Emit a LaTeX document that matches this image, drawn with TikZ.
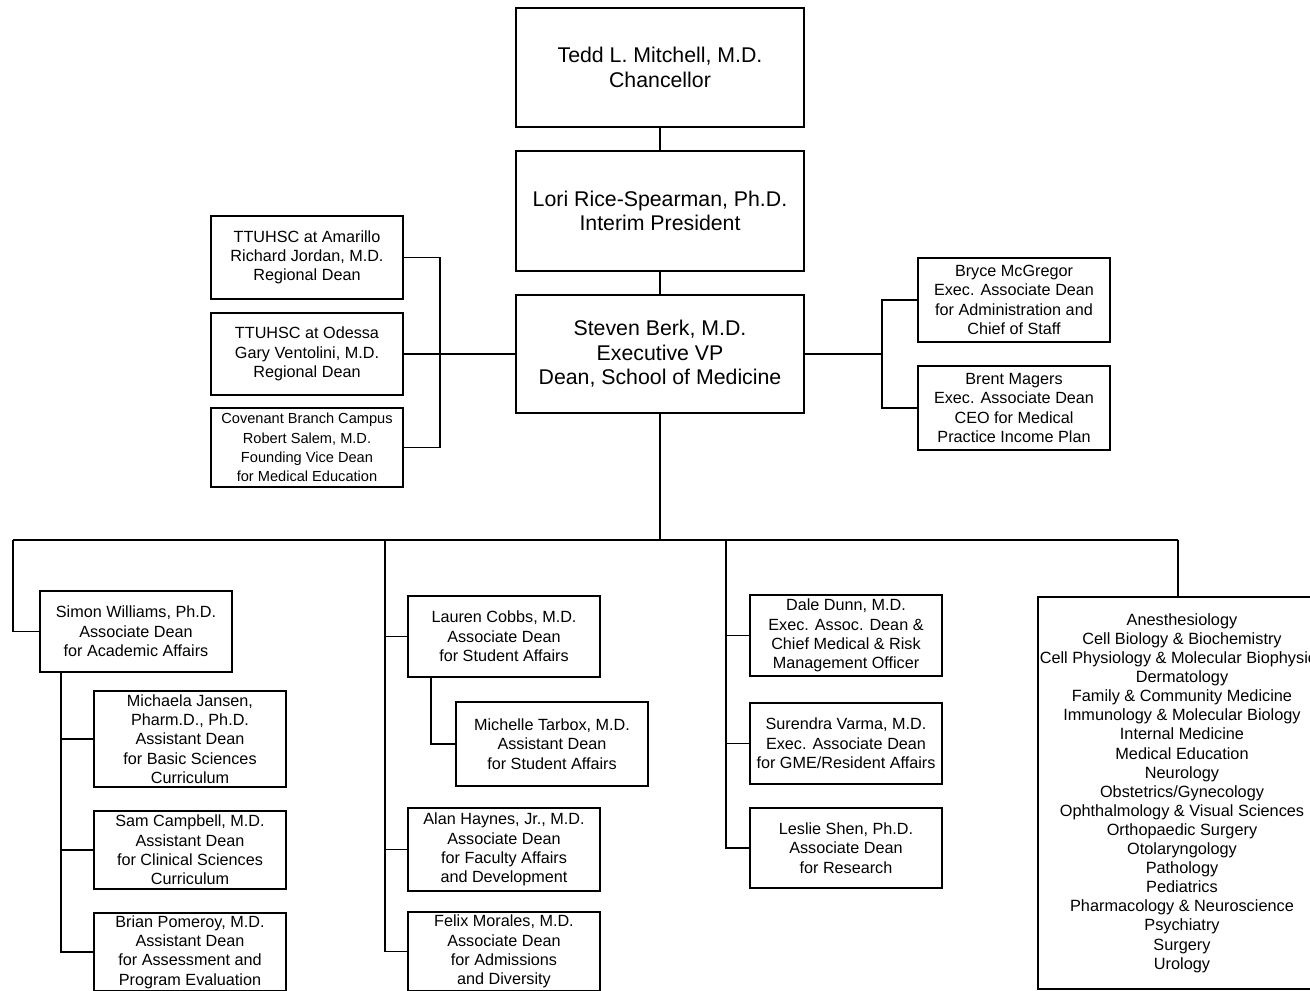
\documentclass[tikz,border=0pt]{standalone}
\usepackage{fontspec}
\setmainfont{Liberation Sans}
\usetikzlibrary{positioning}

\newcommand{\bigsize}{\fontsize{21.3}{24.5}\selectfont}
\newcommand{\smallsize}{\fontsize{16.2}{19.3}\selectfont}
\newcommand{\tinysize}{\fontsize{14.6}{19.3}\selectfont}
\newcommand{\listsize}{\fontsize{16.3}{19.1}\selectfont}

\begin{document}
\begin{tikzpicture}[x=1pt,y=-1pt,line width=1.6pt,
    box/.style={draw,align=center,inner sep=0pt,minimum width=192pt,font=\smallsize},
    head/.style={box,minimum width=288pt,font=\bigsize}]
    \clip (0,0) rectangle (1310,991);
    % top of the chart
    \node[head,minimum height=119pt] (chan) at (660,67.5) {Tedd L. Mitchell, M.D.\\Chancellor};
    \node[head,minimum height=120pt] (pres) at (660,211) {Lori Rice-Spearman, Ph.D.\\Interim President};
    \node[head,minimum height=118pt] (dean) at (660,354) {Steven Berk, M.D.\\Executive VP\\Dean, School of Medicine};
    % regional campuses
    \node[box,minimum height=83pt] (amar) at (307,257.5) {TTUHSC at Amarillo\\Richard Jordan, M.D.\\Regional Dean};
    \node[box,minimum height=82pt] (odes) at (307,354) {TTUHSC at Odessa\\Gary Ventolini, M.D.\\Regional Dean};
    \node[box,minimum height=79pt,font=\tinysize] (cov) at (307,447.5) {Covenant Branch Campus\\Robert Salem, M.D.\\Founding Vice Dean\\for Medical Education};
    % executive associate deans
    \node[box,minimum height=84pt] (bryce) at (1014,300) {Bryce McGregor\\Exec. Associate Dean\\for Administration and\\Chief of Staff};
    \node[box,minimum height=84pt] (brent) at (1014,408) {Brent Magers\\Exec. Associate Dean\\CEO for Medical\\Practice Income Plan};
    % first column
    \node[box,minimum height=81pt] (simon) at (136,631.5) {Simon Williams, Ph.D.\\Associate Dean\\for Academic Affairs};
    \node[box,minimum height=96pt] (jansen) at (190,739) {Michaela Jansen,\\Pharm.D., Ph.D.\\Assistant Dean\\for Basic Sciences\\Curriculum};
    \node[box,minimum height=78pt] (campbell) at (190,850) {Sam Campbell, M.D.\\Assistant Dean\\for Clinical Sciences\\Curriculum};
    \node[box,minimum height=78pt] (pomeroy) at (190,952) {Brian Pomeroy, M.D.\\Assistant Dean\\for Assessment and\\Program Evaluation};
    % second column
    \node[box,minimum height=81pt] (cobbs) at (504,636.5) {Lauren Cobbs, M.D.\\Associate Dean\\for Student Affairs};
    \node[box,minimum height=84pt] (tarbox) at (552,744) {Michelle Tarbox, M.D.\\Assistant Dean\\for Student Affairs};
    \node[box,minimum height=83pt] (haynes) at (504,849.5) {Alan Haynes, Jr., M.D.\\Associate Dean\\for Faculty Affairs\\and Development};
    \node[box,minimum height=79pt] (morales) at (504,951.5) {Felix Morales, M.D.\\Associate Dean\\for Admissions\\and Diversity};
    % third column
    \node[box,minimum height=81pt] (dunn) at (846,635.5) {Dale Dunn, M.D.\\Exec. Assoc. Dean \&\\Chief Medical \& Risk\\Management Officer};
    \node[box,minimum height=81pt] (varma) at (846,743.5) {Surendra Varma, M.D.\\Exec. Associate Dean\\for GME/Resident Affairs};
    \node[box,minimum height=80pt] (shen) at (846,848) {Leslie Shen, Ph.D.\\Associate Dean\\for Research};
    % departments
    \node[box,minimum width=288pt,minimum height=392pt] (dept) at (1182,793) {};
    \node[align=center,inner sep=0pt,font=\listsize] (deptlist) at (dept.center) {Anesthesiology\\Cell Biology \& Biochemistry\\Cell Physiology \& Molecular Biophysics\\Dermatology\\Family \& Community Medicine\\Immunology \& Molecular Biology\\Internal Medicine\\Medical Education\\Neurology\\Obstetrics/Gynecology\\Ophthalmology \& Visual Sciences\\Orthopaedic Surgery\\Otolaryngology\\Pathology\\Pediatrics\\Pharmacology \& Neuroscience\\Psychiatry\\Surgery\\Urology};
    % junctions
    \coordinate (lj) at (440,354);
    \coordinate (rj) at (882,354);
    \coordinate (bus) at (660,540);
    \coordinate (b1) at (13,540);
    \coordinate (b2) at (385,540);
    \coordinate (b3) at (726,540);
    \coordinate (b4) at (1178,540);
    \coordinate (sw) at ([xshift=22pt]simon.south west);
    \coordinate (cw) at ([xshift=24pt]cobbs.south west);
    % connectors
    \draw (chan) -- (pres);
    \draw (pres) -- (dean);
    \draw (odes) -- (dean);
    \draw (amar.east) -| (lj) |- (cov.east);
    \draw (dean) -- (rj);
    \draw (bryce.west) -| (rj) |- (brent.west);
    \draw (dean) -- (bus);
    \draw (b1) -- (b4);
    \draw (b1) |- (simon.west);
    \draw (sw) |- (pomeroy.west) (sw |- jansen.west) -- (jansen.west) (sw |- campbell.west) -- (campbell.west);
    \draw (b2) |- (morales.west) (b2 |- cobbs.west) -- (cobbs.west) (b2 |- haynes.west) -- (haynes.west);
    \draw (cw) |- (tarbox.west);
    \draw (b3) |- (shen.west) (b3 |- dunn.west) -- (dunn.west) (b3 |- varma.west) -- (varma.west);
    \draw (b4) -- (b4 |- dept.north);
\end{tikzpicture}
\end{document}
